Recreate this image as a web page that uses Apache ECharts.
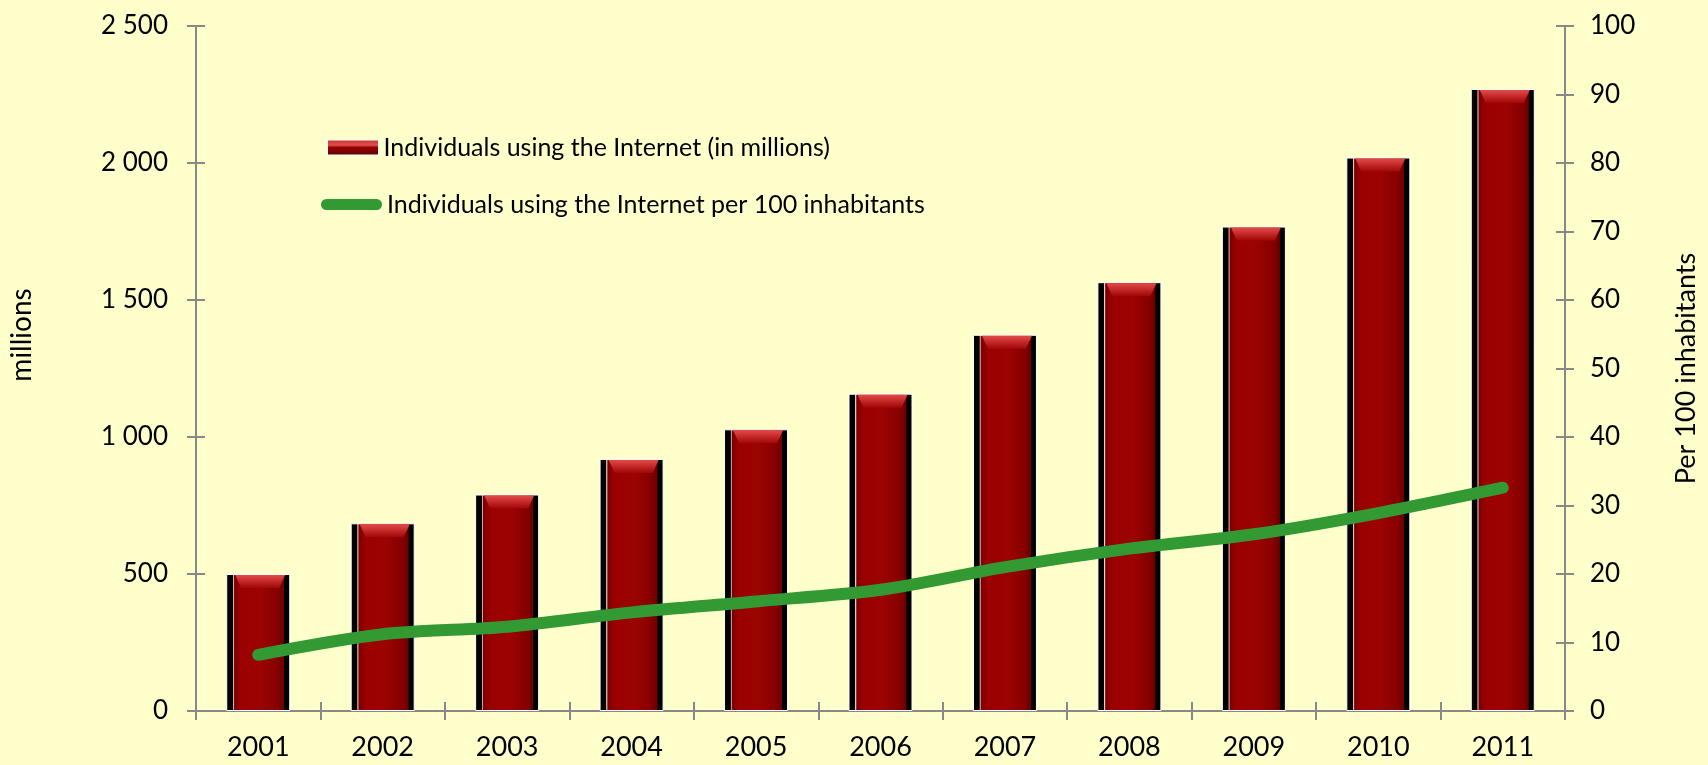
<!DOCTYPE html>
<html>
<head>
<meta charset="utf-8">
<title>Internet users 2001–2011</title>
<script src="https://cdn.jsdelivr.net/npm/echarts@6/dist/echarts.min.js"></script>
<style>
  html, body { margin: 0; padding: 0; background: #FFFFCC; }
  #chart { width: 1708px; height: 765px; }
</style>
</head>
<body>
<div id="chart"></div>
<script>
// Years on the category axis
const years = ['2001', '2002', '2003', '2004', '2005', '2006', '2007', '2008', '2009', '2010', '2011'];

// Individuals using the Internet, millions
const usersMillions = [500, 685, 790, 920, 1028, 1158, 1373, 1565, 1768, 2020, 2270];

// Individuals using the Internet per 100 inhabitants
const usersPer100 = [8.2, 11.2, 12.3, 14.4, 16.0, 17.7, 21.0, 23.7, 25.8, 28.9, 32.6];

// Tick labels for the two value axes
const millionsTickLabels = ['0', '500', '1 000', '1 500', '2 000', '2 500'];
const per100TickLabels = ['0', '10', '20', '30', '40', '50', '60', '70', '80', '90', '100'];

const FONT = 'Lato';
const AXIS_GREY = '#888888';
const GREEN = '#339933';

const barName = 'Individuals using the Internet (in millions)';
const lineName = 'Individuals using the Internet per 100 inhabitants';

// Dark glossy red column body, shaded left to right with black side edges
const barFill = new echarts.graphic.LinearGradient(0, 0, 1, 0, [
  { offset: 0.00, color: '#000000' },
  { offset: 0.10, color: '#000000' },
  { offset: 0.11, color: '#f2d8d8' },
  { offset: 0.13, color: '#7a0000' },
  { offset: 0.22, color: '#9a0000' },
  { offset: 0.55, color: '#9c0303' },
  { offset: 0.80, color: '#860000' },
  { offset: 0.90, color: '#6a0000' },
  { offset: 0.91, color: '#000000' },
  { offset: 1.00, color: '#000000' }
]);

// Lighter bevel on the top of each column
const capFill = new echarts.graphic.LinearGradient(0, 0, 0, 1, [
  { offset: 0, color: '#e24a4a' },
  { offset: 1, color: '#a20606' }
]);

// Swatch used for the column entry of the legend
const legendBarFill = new echarts.graphic.LinearGradient(0, 0, 0, 1, [
  { offset: 0, color: '#c83030' },
  { offset: 0.35, color: '#e05050' },
  { offset: 0.5, color: '#9a0000' },
  { offset: 1, color: '#5a0000' }
]);

const legendText = { fontFamily: FONT, fontSize: 25, color: '#000' };

const chart = echarts.init(document.getElementById('chart'), null, { renderer: 'canvas' });

const valueAxisBase = {
  type: 'value',
  splitLine: { show: false },
  axisLine: { show: true, lineStyle: { color: AXIS_GREY, width: 2 } },
  axisTick: { show: true, length: 9, lineStyle: { color: AXIS_GREY, width: 2 } }
};

chart.setOption({
  backgroundColor: '#FFFFCC',
  animation: false,
  grid: { left: 195, right: 140, top: 26, bottom: 54, containLabel: false },
  legend: [
    {
      left: 322,
      top: 130,
      itemWidth: 51,
      itemHeight: 15,
      textStyle: legendText,
      selectedMode: false,
      data: [
        { name: barName, icon: 'rect', itemStyle: { color: legendBarFill, borderColor: '#ffffff', borderWidth: 1 } }
      ]
    },
    {
      left: 316,
      top: 187,
      itemWidth: 61,
      itemHeight: 11,
      textStyle: legendText,
      selectedMode: false,
      data: [
        { name: lineName, icon: 'path://M5.5,0 L55.5,0 A5.5,5.5 0 0 1 55.5,11 L5.5,11 A5.5,5.5 0 0 1 5.5,0 Z', itemStyle: { color: GREEN } }
      ]
    }
  ],
  xAxis: [
    {
      type: 'category',
      data: years,
      position: 'bottom',
      boundaryGap: true,
      axisLine: { show: true, lineStyle: { color: AXIS_GREY, width: 2 } },
      axisTick: { show: true, length: 9, lineStyle: { color: AXIS_GREY, width: 2 } },
      axisLabel: { fontFamily: FONT, fontSize: 27, color: '#000', margin: 23 }
    },
    {
      // inner half of the crossing ticks
      type: 'category',
      data: years,
      position: 'bottom',
      boundaryGap: true,
      axisLine: { show: false },
      axisTick: { show: true, inside: true, length: 9, lineStyle: { color: AXIS_GREY, width: 2 } },
      axisLabel: { show: false }
    }
  ],
  yAxis: [
    Object.assign({}, valueAxisBase, {
      position: 'left',
      min: 0, max: 2500, interval: 500,
      name: 'millions',
      nameLocation: 'middle',
      nameGap: 160,
      nameTextStyle: { fontFamily: FONT, fontSize: 28, color: '#000', padding: [0, 0, 0, 67] },
      axisLabel: {
        fontFamily: FONT, fontSize: 26, color: '#000', margin: 28,
        formatter: (v) => millionsTickLabels[Math.round(v / 500)]
      }
    }),
    Object.assign({}, valueAxisBase, {
      position: 'right',
      min: 0, max: 100, interval: 10,
      name: 'Per 100 inhabitants',
      nameLocation: 'middle',
      nameGap: 108,
      nameTextStyle: { fontFamily: FONT, fontSize: 27, color: '#000' },
      axisLabel: {
        fontFamily: FONT, fontSize: 26, color: '#000', margin: 25,
        formatter: (v) => per100TickLabels[Math.round(v / 10)]
      }
    }),
    Object.assign({}, valueAxisBase, {
      position: 'left',
      min: 0, max: 2500, interval: 500,
      axisLine: { show: false },
      axisTick: { show: true, inside: true, length: 9, lineStyle: { color: AXIS_GREY, width: 2 } },
      axisLabel: { show: false }
    }),
    Object.assign({}, valueAxisBase, {
      position: 'right',
      min: 0, max: 100, interval: 10,
      axisLine: { show: false },
      axisTick: { show: true, inside: true, length: 9, lineStyle: { color: AXIS_GREY, width: 2 } },
      axisLabel: { show: false }
    })
  ],
  series: [
    {
      name: barName,
      type: 'bar',
      xAxisIndex: 0,
      yAxisIndex: 0,
      data: usersMillions,
      barWidth: 64,
      itemStyle: { color: barFill, borderColor: '#ffffff', borderWidth: 1 },
      z: 2
    },
    {
      // bevelled top of each column
      name: 'cap',
      type: 'pictorialBar',
      xAxisIndex: 0,
      yAxisIndex: 0,
      data: usersMillions,
      symbol: 'path://M0,0 L10,0 L8.8,1 L1.2,1 Z',
      symbolSize: [50, 13],
      symbolPosition: 'end',
      symbolOffset: [2, 1],
      itemStyle: { color: capFill },
      z: 3,
      silent: true
    },
    {
      name: lineName,
      type: 'line',
      xAxisIndex: 0,
      yAxisIndex: 1,
      data: usersPer100,
      smooth: 0.3,
      symbol: 'none',
      lineStyle: { color: GREEN, width: 12, cap: 'round', join: 'round' },
      itemStyle: { color: GREEN },
      z: 5
    }
  ]
});
</script>
</body>
</html>
